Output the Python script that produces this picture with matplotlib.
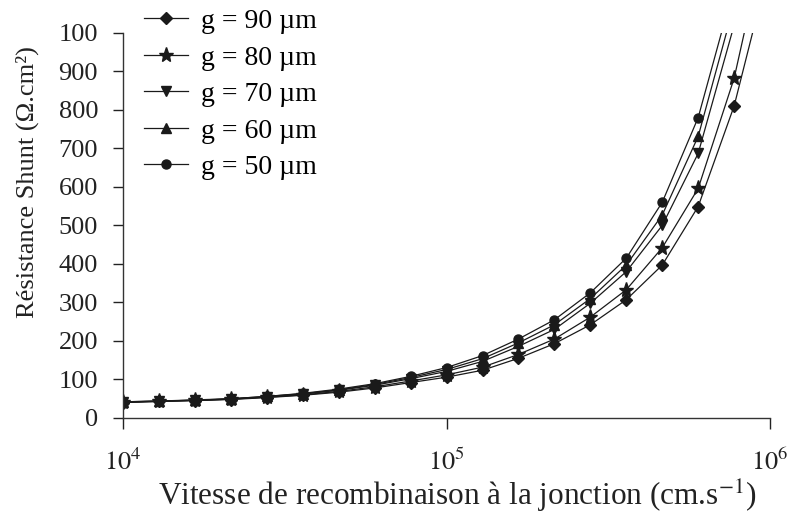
import numpy as np
import matplotlib
matplotlib.use('Agg')
import matplotlib.pyplot as plt

plt.rcParams['font.family'] = ['Liberation Serif', 'DejaVu Serif']
plt.rcParams['mathtext.fontset'] = 'stix'

# recombination velocity at the junction (cm/s), 9 points per decade
vitesse = 10 ** (4 + np.arange(19) / 9.0)

# shunt resistance (ohm.cm2) for each base thickness g
rsh_50 = [42, 44, 47, 50, 56, 64, 75, 89, 108, 131, 162, 205, 255, 325, 415, 560, 780, 1120, 1700]
rsh_60 = [42, 44, 46, 50, 56, 63, 73, 87, 105, 126, 154, 195, 242, 310, 397, 527, 731, 1073, 1600]
rsh_70 = [41, 44, 46, 49, 55, 62, 72, 85, 102, 121, 147, 186, 230, 298, 380, 500, 687, 1020, 1500]
rsh_80 = [41, 43, 46, 49, 54, 60, 69, 81, 96, 112, 132, 165, 205, 262, 333, 442, 596, 882, 1300]
rsh_90 = [40, 43, 45, 48, 53, 59, 67, 78, 92, 106, 124, 155, 193, 242, 307, 397, 549, 810, 1180]

labels = ['g = 90 µm', 'g = 80 µm', 'g = 70 µm', 'g = 60 µm', 'g = 50 µm']
series = [rsh_90, rsh_80, rsh_70, rsh_60, rsh_50]
markers = ['D', '*', 'v', '^', 'o']
msizes = [6.5, 11, 7.5, 7.5, 6.5]

fig = plt.figure(figsize=(7.89, 5.17), dpi=100)
ax = fig.add_axes([0.156, 0.1915, 0.82, 0.745])

for y, lab, m, ms in zip(series, labels, markers, msizes):
    ax.plot(vitesse, y, color='#1a1a1a', lw=0.9, marker=m, ms=ms,
            markerfacecolor='#1a1a1a', markeredgecolor='#1a1a1a', label=lab)

ax.set_xscale('log')
ax.set_xlim(1e4, 1e6)
ax.set_ylim(0, 1000)
ax.set_xticks([1e4, 1e5, 1e6])
ax.set_xticklabels([r'$10^4$', r'$10^5$', r'$10^6$'])
ax.xaxis.set_minor_locator(matplotlib.ticker.NullLocator())
ax.set_yticks(np.arange(0, 1001, 100))
ax.set_yticklabels([str(v) for v in range(0, 1000, 100)] + ['100'])

ax.spines['top'].set_visible(False)
ax.spines['right'].set_visible(False)
for s in ['left', 'bottom']:
    ax.spines[s].set_color('#333333')
    ax.spines[s].set_linewidth(1.0)
ax.tick_params(axis='y', direction='out', length=7, width=1, labelsize=19, pad=11, colors='#222222')
ax.tick_params(axis='x', direction='out', length=8, width=1, labelsize=19, pad=14, colors='#222222')

ax.set_xlabel(r'Vitesse de recombinaison à la jonction (cm.s$^{-1}$)', fontsize=22.5, color='#222222')
ax.xaxis.set_label_coords(0.517, -0.155)
ax.set_ylabel('Résistance Shunt (Ω.cm²)', fontsize=19, color='#222222')
ax.yaxis.set_label_coords(-0.13, 0.613)

leg = ax.legend(loc='upper left', bbox_to_anchor=(0.168, 1.005), bbox_transform=fig.transFigure,
                frameon=False, fontsize=20, handlelength=1.6, handletextpad=0.45,
                labelspacing=0.4, borderaxespad=0)

fig.savefig('out.png', dpi=100)
